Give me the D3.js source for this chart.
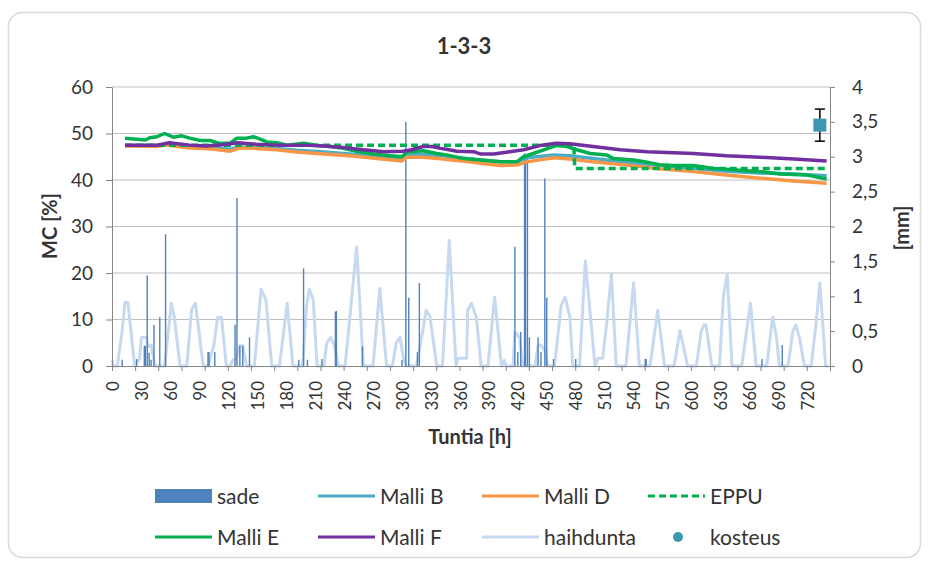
<!DOCTYPE html>
<html>
<head>
<meta charset="utf-8">
<script src="https://cdn.jsdelivr.net/npm/d3@7/dist/d3.min.js"></script>
<style>
  body { margin: 0; background: #fff; }
  svg text { font-family: Lato, "Open Sans", sans-serif; fill: #333; }
</style>
</head>
<body>
<svg id="chart" width="929" height="561"></svg>
<script>
// hourly data, x axis = hour (category 0..743)
var sadeHours = [0, 10, 25, 33, 34, 36, 38, 40, 43, 49, 55, 99, 100, 106, 127, 129, 132, 135, 142,
                 193, 198, 202, 217, 231, 232, 259, 300, 304, 307, 316, 318, 417, 420, 423,
                 427, 428, 430, 432, 441, 444, 448, 450, 457, 480, 552, 553, 673, 694];
var sade = [0.09, 0.09, 0.1, 0.29, 0.29, 1.3, 0.19, 0.09, 0.59, 0.7, 1.89, 0.2, 0.2, 0.2, 0.59, 2.41, 0.29, 0.29, 0.41,
            0.09, 1.4, 0.09, 0.1, 0.78, 0.79, 0.28, 0.09, 3.5, 0.98, 0.2, 1.19, 1.71, 0.2, 0.49,
            3.05, 2.98, 3.02, 0.41, 0.41, 0.2, 2.69, 0.98, 0.1, 0.1, 0.1, 0.1, 0.1, 0.3];

var malliB = [[13,47.4],[46,47.4],[56,47.7],[80,47.1],[101,47.0],[122,46.6],[132,47.1],[149,47.0],
              [170,46.8],[191,46.4],[219,46.0],[246,45.6],[274,45.0],[300,44.6],[305,45.4],[322,45.5],
              [343,45.2],[370,44.5],[402,43.9],[419,43.9],[429,44.8],[457,45.4],[474,45.2],[498,44.6],
              [533,43.8],[567,43.1],[602,42.5],[636,41.9],[671,41.5],[706,41.3],[740,40.9]];

var malliD = [[13,47.3],[46,47.2],[56,47.5],[80,46.9],[101,46.7],[122,46.2],[132,46.9],[149,46.8],
              [170,46.5],[191,46.0],[219,45.6],[246,45.2],[274,44.6],[300,44.1],[305,44.9],[322,44.9],
              [343,44.5],[346,44.4],[370,43.9],[381,43.6],[402,43.1],[419,43.2],[429,43.9],[457,44.8],
              [474,44.5],[498,43.9],[533,43.2],[567,42.4],[602,41.8],[636,41.1],[671,40.4],[706,39.8],[740,39.3]];

var eppu = [[13,47.5],[478,47.5],[479,42.5],[740,42.5]];

var malliE = [[13,49.0],[34,48.6],[39,49.1],[46,49.3],[54,50.0],[63,49.2],[72,49.5],[80,49.0],
              [91,48.5],[101,48.5],[110,47.9],[122,47.9],[129,49.0],[139,49.0],[146,49.3],[153,48.8],
              [160,48.2],[170,48.0],[181,47.5],[198,47.9],[212,47.4],[226,47.2],[239,46.8],[253,46.2],
              [270,45.6],[288,45.2],[300,45.0],[305,46.0],[322,46.3],[336,45.7],[346,45.4],[364,44.6],
              [381,44.3],[402,43.9],[419,43.9],[426,45.0],[436,45.7],[450,46.7],[460,47.4],[471,47.2],
              [481,46.5],[495,45.7],[512,45.4],[519,44.6],[540,44.3],[554,43.8],[567,43.3],[581,43.1],
              [602,43.1],[623,42.5],[643,42.2],[671,41.8],[692,41.3],[719,41.1],[740,40.2]];

var malliF = [[13,47.5],[46,47.5],[59,48.0],[80,47.5],[97,47.3],[114,47.6],[130,48.0],[149,47.7],
              [170,47.5],[198,47.5],[219,47.3],[239,47.0],[260,46.5],[281,46.1],[301,46.2],[310,46.5],
              [322,47.2],[331,47.2],[340,46.8],[346,46.6],[357,46.2],[374,46.1],[381,45.6],[395,45.6],
              [410,46.0],[426,46.5],[443,47.4],[460,47.9],[474,47.8],[498,47.2],[526,46.5],[554,46.1],
              [602,45.7],[636,45.2],[671,44.9],[706,44.5],[740,44.1]];

var haihdunta = [[0,0],[5,0],[10,0.5],[13,0.91],[16,0.91],[23,0],[28,0.1],[30,0.41],[35,0.41],[37,0.28],
                 [40,0.3],[44,0],[54,0],[61,0.9],[64,0.71],[70,0],[77,0],[82,0.81],[86,0.9],[94,0],
                 [99,0],[105,0.29],[109,0.7],[113,0.7],[118,0],[122,0],[125,0.09],[128,0.1],[132,0.29],
                 [135,0.29],[139,0],[147,0],[154,1.1],[159,0.95],[165,0],[173,0],[181,0.9],[187,0],
                 [197,0],[201,0.85],[204,1.1],[208,0.95],[212,0],[219,0],[222,0.33],[226,0.41],[230,0.3],
                 [234,0],[241,0],[246,0.7],[253,1.71],[260,0],[270,0],[277,1.11],[284,0],[290,0],
                 [294,0.33],[298,0.41],[301,0.15],[304,0],[315,0],[322,0.54],[325,0.8],[329,0.71],[336,0],
                 [342,0],[349,1.8],[356,0],[358,0.11],[367,0.11],[368,0.8],[372,0.9],[377,0.7],[382,0],
                 [389,0],[396,0.99],[403,0],[406,0.08],[408,0],[415,0],[417,0.49],[422,0.4],[425,0],
                 [438,0],[441,0.3],[444,0.3],[448,0.22],[451,0],[458,0],[465,0.87],[469,0.99],[474,0.7],
                 [477,0],[484,0],[490,1.51],[494,0.9],[500,0],[503,0.11],[508,0.11],[512,0.6],[517,1.32],
                 [522,0],[532,0],[540,1.19],[546,0],[557,0],[565,0.8],[572,0],[582,0],[588,0.51],[596,0],
                 [605,0],[610,0.5],[613,0.59],[615,0.59],[621,0],[629,0],[633,0.99],[637,1.32],[642,0],
                 [652,0],[661,0.9],[667,0],[678,0],[684,0.7],[688,0.42],[691,0],[700,0],[705,0.5],
                 [708,0.59],[712,0.4],[717,0],[724,0],[729,0.6],[733,1.19],[739,0],[742,0]];

var kosteusHour = [733];
var kosteus = [51.8];
var kosteusErr = [3.45];

var xLabels = d3.range(0, 721, 30);
var leftTicks = d3.range(0, 61, 10);
var rightTicks = d3.range(0, 4.01, 0.5);

var svg = d3.select("#chart");

// outer frame
svg.append("rect")
    .attr("x", 8.5).attr("y", 12.5)
    .attr("width", 912).attr("height", 545)
    .attr("rx", 14)
    .attr("fill", "#fff")
    .attr("stroke", "#d9d9d9")
    .attr("stroke-width", 1.5);

var xEdge = d3.scaleLinear().domain([0, 744]).range([112, 830]);
var xMid = d3.scaleLinear().domain([-0.5, 743.5]).range([112, 830]);
var yL = d3.scaleLinear().domain([0, 60]).range([366, 87]);
var yR = d3.scaleLinear().domain([0, 4]).range([366, 87]);

// grid
svg.append("g").selectAll("line")
    .data(leftTicks.slice(1))
    .enter().append("line")
    .attr("x1", 112).attr("x2", 830)
    .attr("y1", function (d) { return yL(d); })
    .attr("y2", function (d) { return yL(d); })
    .attr("stroke", "#bfbfbf")
    .attr("stroke-width", 1);

// haihdunta (secondary axis)
var lineR = d3.line()
    .x(function (d) { return xMid(d[0]); })
    .y(function (d) { return yR(d[1]); });

svg.append("path")
    .datum(haihdunta)
    .attr("d", lineR)
    .attr("fill", "none")
    .attr("stroke", "#c6d9f1")
    .attr("stroke-width", 3)
    .attr("stroke-linejoin", "round");

// sade bars
svg.append("g").selectAll("rect")
    .data(sade)
    .enter().append("rect")
    .attr("x", function (d, i) { return xMid(sadeHours[i]) - 0.7; })
    .attr("width", 1.4)
    .attr("y", function (d) { return yR(d); })
    .attr("height", function (d) { return yR(0) - yR(d); })
    .attr("fill", "#4f81bd");

// axes
var axisColor = "#868686";

var gLeft = svg.append("g")
    .attr("transform", "translate(112,0)")
    .call(d3.axisLeft(yL).tickValues(leftTicks).tickSize(6).tickSizeOuter(0).tickPadding(13));
var gRight = svg.append("g")
    .attr("transform", "translate(830,0)")
    .call(d3.axisRight(yR).tickValues(rightTicks).tickSize(5).tickSizeOuter(0).tickPadding(17)
        .tickFormat(function (d) { return String(d).replace(".", ","); }));
var gBottom = svg.append("g")
    .attr("transform", "translate(0,366)")
    .call(d3.axisBottom(xEdge).tickValues(d3.range(0, 745, 24)).tickSize(5).tickSizeOuter(0).tickFormat(""));
var gLabels = svg.append("g")
    .attr("transform", "translate(0,366)")
    .call(d3.axisBottom(xMid).tickValues(xLabels).tickSize(0));
gLabels.select(".domain").remove();
gLabels.selectAll("text")
    .attr("text-anchor", "end")
    .attr("x", 0).attr("y", 0).attr("dy", "0.36em")
    .attr("transform", "translate(0,15) rotate(-90)")
    .style("font-size", "17px");

[gLeft, gRight, gBottom].forEach(function (g) {
    g.selectAll(".domain, line").attr("stroke", axisColor);
    g.selectAll("text").style("font-size", "19px").attr("fill", "#333");
});

// MC lines
var lineL = d3.line()
    .x(function (d) { return xMid(d[0]); })
    .y(function (d) { return yL(d[1]); });

var mcSeries = [
    { data: malliB, color: "#4bacc6", dash: null },
    { data: malliD, color: "#f79646", dash: null },
    { data: eppu, color: "#00b050", dash: "7,4" },
    { data: malliE, color: "#00b050", dash: null },
    { data: malliF, color: "#7030a0", dash: null }
];
mcSeries.forEach(function (s) {
    svg.append("path")
        .datum(s.data)
        .attr("d", lineL)
        .attr("fill", "none")
        .attr("stroke", s.color)
        .attr("stroke-width", 3.5)
        .attr("stroke-dasharray", s.dash)
        .attr("stroke-linejoin", "round");
});

// kosteus with error bar
var kg = svg.append("g");
kosteus.forEach(function (v, i) {
    var cx = xMid(kosteusHour[i]);
    var hi = yL(v + kosteusErr[i]), lo = yL(v - kosteusErr[i]);
    kg.append("line").attr("x1", cx).attr("x2", cx).attr("y1", hi).attr("y2", lo)
        .attr("stroke", "#000").attr("stroke-width", 1.5);
    kg.append("line").attr("x1", cx - 5).attr("x2", cx + 5).attr("y1", hi).attr("y2", hi)
        .attr("stroke", "#000").attr("stroke-width", 1.5);
    kg.append("line").attr("x1", cx - 5).attr("x2", cx + 5).attr("y1", lo).attr("y2", lo)
        .attr("stroke", "#000").attr("stroke-width", 1.5);
    kg.append("rect").attr("x", cx - 6.5).attr("y", yL(v) - 6.5)
        .attr("width", 13).attr("height", 13).attr("fill", "#3d97b0");
});

// titles
svg.append("text").attr("x", 464).attr("y", 54).attr("text-anchor", "middle")
    .style("font-size", "22px").style("font-weight", "bold").text("1-3-3");
svg.append("text").attr("x", 470).attr("y", 444).attr("text-anchor", "middle")
    .style("font-size", "20px").style("font-weight", "bold").text("Tuntia [h]");
svg.append("text").attr("transform", "translate(57,226) rotate(-90)").attr("text-anchor", "middle")
    .style("font-size", "20px").style("font-weight", "bold").text("MC [%]");
svg.append("text").attr("transform", "translate(909,228) rotate(-90)").attr("text-anchor", "middle")
    .style("font-size", "20px").style("font-weight", "bold").text("[mm]");

// legend
var legendItems = [
    { name: "sade", type: "rect", color: "#4f81bd" },
    { name: "Malli B", type: "line", color: "#4bacc6" },
    { name: "Malli D", type: "line", color: "#f79646" },
    { name: "EPPU", type: "dash", color: "#00b050" },
    { name: "Malli E", type: "line", color: "#00b050" },
    { name: "Malli F", type: "line", color: "#7030a0" },
    { name: "haihdunta", type: "line", color: "#c6d9f1" },
    { name: "kosteus", type: "dot", color: "#3d97b0" }
];
var colX = [155, 318, 482, 648];
var rowY = [496, 537];
legendItems.forEach(function (d, i) {
    var lx = colX[i % 4], ly = rowY[Math.floor(i / 4)];
    var g = svg.append("g");
    if (d.type === "rect") {
        g.append("rect").attr("x", lx).attr("y", ly - 7).attr("width", 57).attr("height", 14).attr("fill", d.color);
    } else if (d.type === "dot") {
        g.append("circle").attr("cx", lx + 30).attr("cy", ly).attr("r", 5).attr("fill", d.color);
    } else {
        g.append("line").attr("x1", lx).attr("x2", lx + 57).attr("y1", ly).attr("y2", ly)
            .attr("stroke", d.color).attr("stroke-width", 3)
            .attr("stroke-dasharray", d.type === "dash" ? "7,4" : null);
    }
    g.append("text").attr("x", lx + 62).attr("y", ly).attr("dy", "0.36em")
        .style("font-size", "21px").text(d.name);
});
</script>
</body>
</html>
